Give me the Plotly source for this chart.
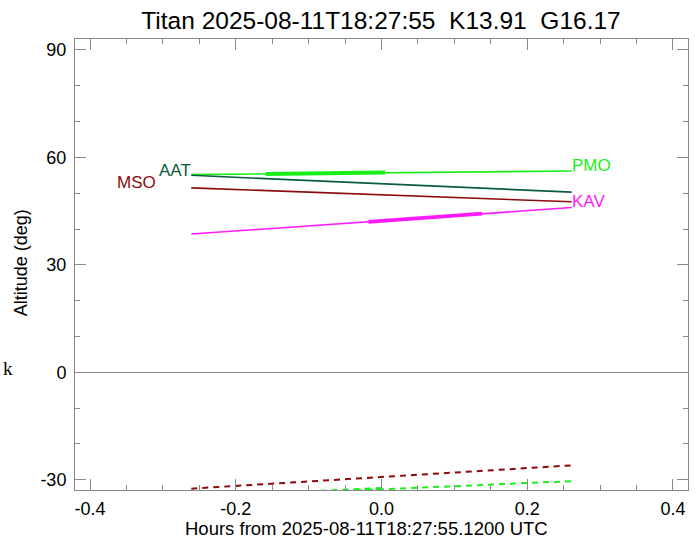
import plotly.graph_objects as go

# ---- data ----
hours = [-0.261, 0.261]
alt_pmo = [55.2, 56.2]
alt_aat = [55.0, 50.3]
alt_mso = [51.5, 47.6]
alt_kav = [38.6, 46.0]

# observing windows (thick segments)
pmo_win_hours = [-0.159, 0.005]
pmo_win_alt = [55.4, 55.8]
kav_win_hours = [-0.018, 0.138]
kav_win_alt = [42.0, 44.3]

# second (dashed) tracks, below horizon
dash_mso = [-32.5, -26.0]
dash_pmo = [-35.0, -30.4]
dash_pmo_win = [-34.1, -32.65]

title_text = "Titan 2025-08-11T18:27:55  K13.91  G16.17"
xtitle = "Hours from 2025-08-11T18:27:55.1200 UTC"
ytitle = "Altitude (deg)"
xticks = [-0.4, -0.2, 0.0, 0.2, 0.4]
xticklabels = ["-0.4", "-0.2", "0.0", "0.2", "0.4"]
yticks = [-30, 0, 30, 60, 90]
yticklabels = ["-30", "0", "30", "60", "90"]

C_PMO = "#19f019"
C_AAT = "#0a5c3a"
C_MSO = "#8c0a0a"
C_KAV = "#ff19ff"

FONT = "Liberation Sans, Arial, sans-serif"

W, H = 700, 541
PL, PR, PT, PB = 75.3, 687.7, 39.3, 490.3   # plot frame in screen px
ML, MR, MT, MB = PL, W - PR, PT, H - PB
PW, PH = PR - PL, PB - PT

def px2paper_x(px):
    return (px - PL) / PW

def px2paper_y(py):
    return (PB - py) / PH

fig = go.Figure()

def line(x, y, color, width=1.6, dash=None):
    fig.add_trace(go.Scatter(x=x, y=y, mode="lines",
                             line=dict(color=color, width=width, dash=dash),
                             hoverinfo="skip", showlegend=False))

line(hours, alt_pmo, C_PMO)
line(hours, alt_aat, C_AAT)
line(hours, alt_mso, C_MSO)
line(hours, alt_kav, C_KAV)
line(pmo_win_hours, pmo_win_alt, C_PMO, width=4)
line(kav_win_hours, kav_win_alt, C_KAV, width=4)
line(hours, dash_mso, C_MSO, width=2, dash="6px,5px")
line(hours, dash_pmo, C_PMO, width=2, dash="6px,5px")
line(pmo_win_hours, dash_pmo_win, C_PMO, width=4.5, dash="6px,5px")

LF = 17
fig.add_annotation(x=hours[1], y=alt_pmo[1], text="PMO", xanchor="left", yanchor="middle",
                   showarrow=False, font=dict(family=FONT, size=LF, color=C_PMO), xshift=-2, yshift=6)
fig.add_annotation(x=hours[1], y=alt_kav[1], text="KAV", xanchor="left", yanchor="middle",
                   showarrow=False, font=dict(family=FONT, size=LF, color=C_KAV), xshift=-2, yshift=6)
fig.add_annotation(x=hours[0], y=alt_aat[0], text="AAT", xanchor="right", yanchor="middle",
                   showarrow=False, font=dict(family=FONT, size=LF, color=C_AAT), xshift=2, yshift=5)
fig.add_annotation(x=hours[0], y=alt_mso[0], text="MSO", xanchor="right", yanchor="middle",
                   showarrow=False, font=dict(family=FONT, size=LF, color=C_MSO), xshift=-33, yshift=5)

# stray character at left
fig.add_annotation(xref="paper", yref="paper", x=px2paper_x(8), y=px2paper_y(369),
                   text="k", showarrow=False, xanchor="center", yanchor="middle",
                   font=dict(family="Liberation Serif, DejaVu Serif, serif", size=19, color="black"))

# axis titles as annotations
fig.add_annotation(xref="paper", yref="paper", x=px2paper_x(366.5), y=px2paper_y(529),
                   text=xtitle, showarrow=False, xanchor="center", yanchor="middle",
                   font=dict(family=FONT, size=18.5, color="black"))
fig.add_annotation(xref="paper", yref="paper", x=px2paper_x(21), y=px2paper_y(263),
                   text=ytitle, showarrow=False, xanchor="center", yanchor="middle", textangle=-90,
                   font=dict(family=FONT, size=18, color="black"))

AX = "#8a8a8a"
fig.update_layout(
    width=W, height=H,
    margin=dict(l=ML, r=MR, t=MT, b=MB, pad=0),
    paper_bgcolor="white", plot_bgcolor="white",
    font=dict(family=FONT, color="black"),
    title=dict(text=title_text, x=381 / W, xanchor="center", y=1 - 20 / H,
               yanchor="middle", font=dict(family=FONT, size=24.5, color="black")),
    xaxis=dict(range=[-0.4206, 0.4206], tickvals=xticks, ticktext=xticklabels,
               showgrid=False, zeroline=False, showline=True, linecolor=AX, linewidth=1,
               mirror="ticks", ticks="inside", ticklen=11, tickcolor=AX, tickwidth=1,
               tickfont=dict(family=FONT, size=18, color="black"), ticklabelstandoff=2,
               minor=dict(dtick=0.05, tick0=0, ticks="inside", ticklen=5, tickcolor=AX, showgrid=False)),
    yaxis=dict(range=[-32.88, 93.07], tickvals=yticks, ticktext=yticklabels,
               showgrid=False, zeroline=True, zerolinecolor=AX, zerolinewidth=1.2,
               showline=True, linecolor=AX, linewidth=1,
               mirror="ticks", ticks="inside", ticklen=11, tickcolor=AX, tickwidth=1,
               tickfont=dict(family=FONT, size=18, color="black"), ticklabelstandoff=4,
               minor=dict(dtick=10, tick0=0, ticks="inside", ticklen=5, tickcolor=AX, showgrid=False)),
)

fig.write_html("out.html", config={"displayModeBar": False},
               post_script="document.body.style.margin='0';document.body.style.padding='0';")
